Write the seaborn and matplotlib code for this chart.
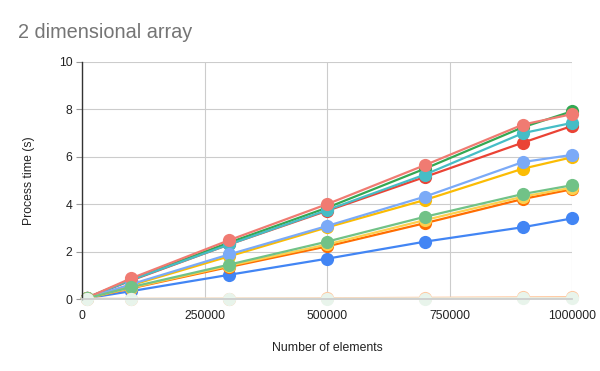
import matplotlib
matplotlib.use("Agg")
import matplotlib.pyplot as plt
import seaborn as sns
import pandas as pd

x_values = [10000, 100000, 300000, 500000, 700000, 900000, 1000000]

s_blue = [0.03, 0.33, 1.02, 1.70, 2.42, 3.03, 3.40]
s_red = [0.05, 0.78, 2.30, 3.72, 5.15, 6.60, 7.30]
s_yellow = [0.04, 0.58, 1.80, 3.02, 4.18, 5.50, 5.98]
s_green = [0.05, 0.82, 2.38, 3.85, 5.50, 7.25, 7.92]
s_orange = [0.03, 0.45, 1.35, 2.22, 3.20, 4.22, 4.63]
s_teal = [0.05, 0.80, 2.30, 3.75, 5.25, 7.00, 7.43]
s_lightblue = [0.04, 0.62, 1.88, 3.08, 4.32, 5.78, 6.08]
s_salmon = [0.05, 0.87, 2.48, 4.00, 5.65, 7.36, 7.80]
s_lightyellow = [0.03, 0.47, 1.40, 2.30, 3.33, 4.32, 4.70]
s_lightgreen = [0.03, 0.50, 1.45, 2.42, 3.47, 4.43, 4.80]
s_peach = [0.01, 0.01, 0.02, 0.03, 0.05, 0.07, 0.08]
s_palegreen = [0.005, 0.005, 0.01, 0.01, 0.02, 0.03, 0.03]

series = [
    ("s1", s_blue, "#4285F4"),
    ("s2", s_red, "#EA4335"),
    ("s3", s_yellow, "#FBBC04"),
    ("s4", s_green, "#34A853"),
    ("s5", s_orange, "#FF6D01"),
    ("s6", s_teal, "#46BDC6"),
    ("s7", s_lightblue, "#7BAAF7"),
    ("s8", s_salmon, "#F07B72"),
    ("s9", s_lightyellow, "#FCD04F"),
    ("s10", s_lightgreen, "#71C287"),
    ("s11", s_peach, "#FFC8A0"),
    ("s12", s_palegreen, "#E8F4EB"),
]

rows = []
for name, vals, col in series:
    for xv, yv in zip(x_values, vals):
        rows.append({"x": xv, "y": yv, "series": name})
df = pd.DataFrame(rows)
palette = {name: col for name, _, col in series}

sns.set_theme(style="white")
plt.rcParams["font.family"] = ["Liberation Sans", "DejaVu Sans"]

fig = plt.figure(figsize=(6, 3.71), dpi=100)
ax = fig.add_axes([82/600, 1-299/371, (572-82)/600, (299-62)/371])

sns.lineplot(data=df, x="x", y="y", hue="series", palette=palette,
             marker="o", markersize=9.5, markeredgewidth=0, linewidth=1.6,
             legend=False, ax=ax, clip_on=False)

ax.set_xlim(0, 1000000)
ax.set_ylim(0, 10)
ax.set_xticks([0, 250000, 500000, 750000, 1000000])
ax.set_xticklabels(["0", "250000", "500000", "750000", "1000000"])
ax.set_yticks([0, 2, 4, 6, 8, 10])
ax.grid(True, color="#CCCCCC", linewidth=0.8)
ax.set_axisbelow(True)
for s in ["top", "right"]:
    ax.spines[s].set_visible(False)
ax.spines["left"].set_color("#333333")
ax.spines["bottom"].set_color("#CCCCCC")
ax.spines["left"].set_linewidth(1.0)
ax.tick_params(axis="both", labelsize=8.8, colors="#222222", length=4,
               color="#999999", width=0.8, left=True, bottom=False, pad=3)
ax.tick_params(axis="x", pad=4)

ax.set_xlabel("Number of elements", fontsize=8.8, color="#222222", labelpad=14)
ax.set_ylabel("Process time (s)", fontsize=8.8, color="#222222", labelpad=17)

fig.text(18/600, 1-32/371, "2 dimensional array", fontsize=14.3, color="#757575",
         va="center", ha="left")

fig.savefig("out.png", dpi=100)
